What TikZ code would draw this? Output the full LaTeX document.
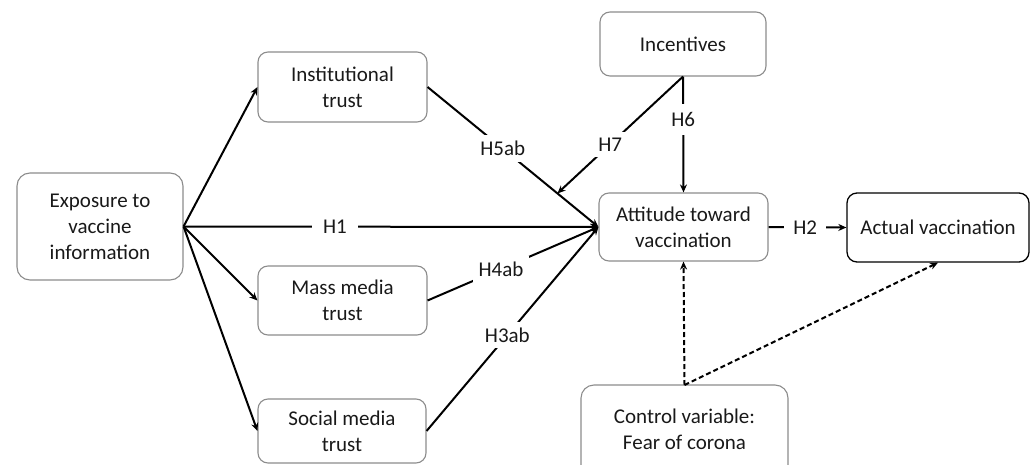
\documentclass[tikz,border=0pt]{standalone}
\usepackage{fontspec}
\setmainfont{Carlito}
\usetikzlibrary{arrows.meta}
\tikzset{
  box/.style={draw=black!45, line width=1.1pt, rounded corners=10pt, align=center,
    font=\fontsize{21}{26}\selectfont, text=black!90, inner sep=0pt},
  darkbox/.style={box, draw=black, line width=1.3pt},
  conn/.style={line width=2pt, black},
  arr/.style={conn, -{Stealth[length=8pt,width=7pt]}},
  dasharr/.style={arr, dash pattern=on 5pt off 3pt},
  lbl/.style={fill=white, inner sep=6pt, font=\fontsize{21}{26}\selectfont, text=black!90}
}
\begin{document}
\begin{tikzpicture}[x=1pt,y=-1pt]
\useasboundingbox (0,0) rectangle (1035,465);
\clip (0,0) rectangle (1035,465);
\node[box, rounded corners=13pt, minimum width=166pt, minimum height=107pt] (exp) at (100,226.5) {Exposure to\\vaccine\\information};
\node[box, minimum width=169pt, minimum height=70pt] (inst) at (342.5,87) {Institutional\\trust};
\node[box, minimum width=169pt, minimum height=69pt] (mass) at (342.5,300.5) {Mass media\\trust};
\node[box, minimum width=168pt, minimum height=64pt] (soc) at (342,431) {Social media\\trust};
\node[box, minimum width=166pt, minimum height=64pt] (inc) at (683,44) {Incentives};
\node[box, minimum width=169pt, minimum height=68pt] (att) at (683.5,227) {Attitude toward\\vaccination};
\node[darkbox, minimum width=182pt, minimum height=69pt] (act) at (938,227.5) {Actual vaccination};
\node[box, rounded corners=13pt, minimum width=207pt, minimum height=110pt] (ctrl) at (684.5,440) {};
\node[align=center, font=\fontsize{21}{26}\selectfont, text=black!90] (ctrltxt) at (684.5,429) {Control variable:\\Fear of corona};
\coordinate (ctrltop) at (684.5,385);

\draw[arr] (exp.east) -- (inst.west);
\draw[arr] (exp.east) -- (mass.west);
\draw[arr] (exp.east) -- (soc.west);
\draw[arr] (exp.east) -- node[lbl, pos=0.365, inner sep=11pt] (h1) {H1} (att.west);
\draw[arr] (inst.east) -- node[lbl, pos=0.44] (h5) {H5ab} coordinate[pos=0.76] (mod) (att.west);
\draw[arr] (mass.east) -- node[lbl, pos=0.43] (h4) {H4ab} (att.west);
\draw[arr] (soc.east) -- node[lbl, pos=0.47] (h3) {H3ab} (att.west);
\draw[arr] (inc.south) -- node[lbl, pos=0.37, inner sep=8pt] (h6) {H6} (att.north);
\draw[arr] (inc.south) -- node[lbl, pos=0.58] (h7) {H7} (mod);
\draw[arr] (att.east) -- node[lbl, pos=0.47, inner sep=9pt] (h2) {H2} (act.west);
\draw[dasharr] (ctrltop) -- (att.south);
\draw[dasharr] (ctrltop) -- (act.south);
\end{tikzpicture}
\end{document}
